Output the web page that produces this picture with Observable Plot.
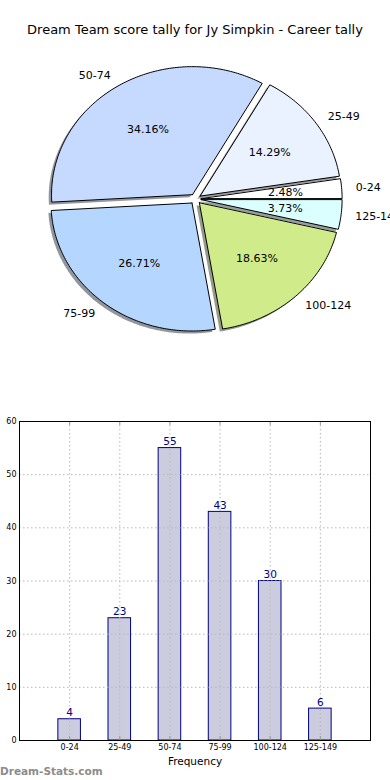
<!DOCTYPE html>
<html><head><meta charset="utf-8">
<script src="https://cdn.jsdelivr.net/npm/d3@7"></script>
<script src="https://cdn.jsdelivr.net/npm/@observablehq/plot@0.6"></script>
<style>
html,body{margin:0;padding:0;background:#fff;}
body{font-family:"DejaVu Sans",sans-serif;width:390px;height:780px;overflow:hidden;position:relative;}
#title{position:absolute;top:22px;left:0;width:390px;text-align:center;font-size:13px;line-height:16px;color:#000;}
#pie{position:absolute;top:60px;left:0;}
#bar{position:absolute;top:400px;left:0;}
#wm{position:absolute;left:0;top:764px;font-size:10.5px;line-height:14px;color:#8c8c8c;font-weight:bold;}
</style></head><body>
<div id="title">Dream Team score tally for Jy Simpkin - Career tally</div>
<div id="pie"></div>
<div id="bar"></div>
<div id="wm">Dream-Stats.com</div>
<script>
// ---- data ----
const categories = ["0-24", "25-49", "50-74", "75-99", "100-124", "125-149"];
const counts = [4, 23, 55, 43, 30, 6];
const pieColors = ["#ffffff", "#eaf2ff", "#c6d9ff", "#b5d6ff", "#d0eb8a", "#dbffff"];
const yTicks = [0, 10, 20, 30, 40, 50, 60];
const xLabel = "Frequency";

// ---- pie ----
const explode = 0.04;
const total = d3.sum(counts);
let acc = 0;
const slices = categories.map((c, i) => {
  const a0 = acc / total * 2 * Math.PI;
  acc += counts[i];
  const a1 = acc / total * 2 * Math.PI;
  const mid = (a0 + a1) / 2;
  const ox = explode * Math.cos(mid), oy = explode * Math.sin(mid);
  const n = Math.max(2, Math.ceil((a1 - a0) / (Math.PI / 180)));
  const pts = [{u: ox, v: oy}];
  for (let k = 0; k <= n; k++) {
    const a = a0 + (a1 - a0) * k / n;
    pts.push({u: ox + Math.cos(a), v: oy + Math.sin(a)});
  }
  pts.push({u: ox, v: oy});
  const col = d3.rgb(pieColors[i]);
  const shadow = d3.rgb(col.r * 0.3, col.g * 0.3, col.b * 0.3).formatHex();
  return {
    cat: c, pct: counts[i] / total * 100, mid, pts, color: pieColors[i], shadow,
    lu: ox + 1.1 * Math.cos(mid), lv: oy + 1.1 * Math.sin(mid),
    pu: ox + 0.6 * Math.cos(mid), pv: oy + 0.6 * Math.sin(mid)
  };
});

const pieMarks = slices.flatMap(s => [
  Plot.line(s.pts, {x: d => d.u - 0.02, y: d => d.v - 0.02, fill: s.shadow, fillOpacity: 0.55, stroke: "none", curve: "linear"}),
  Plot.line(s.pts, {x: "u", y: "v", fill: s.color, stroke: "#000", strokeWidth: 1, strokeLinejoin: "miter", curve: "linear"})
]);

const pie = Plot.plot({
  width: 390, height: 340,
  marginTop: 0, marginBottom: 0, marginLeft: 0, marginRight: 0,
  x: {domain: [-195 / 141, 195 / 141], axis: null},
  y: {domain: [-201.5 / 128, 138.5 / 128], axis: null},
  style: {fontFamily: "DejaVu Sans", background: "#fff", overflow: "hidden"},
  marks: [
    ...pieMarks,
    Plot.text(slices, {x: "pu", y: "pv", text: d => d.pct.toFixed(2) + "%", fontSize: 11, fill: "#000"}),
    Plot.text(slices.filter(d => d.lu >= 0), {x: "lu", y: "lv", text: "cat", textAnchor: "start", fontSize: 11, fill: "#000"}),
    Plot.text(slices.filter(d => d.lu < 0), {x: "lu", y: "lv", text: "cat", textAnchor: "end", fontSize: 11, fill: "#000"})
  ]
});
document.getElementById("pie").appendChild(pie);

// ---- bar ----
const bars = categories.map((c, i) => ({i, cat: c, n: counts[i]}));
const idx = d3.range(categories.length);
const barW = 0.45;
const tickLen = 60 * 4 / 319;
const bar = Plot.plot({
  width: 390, height: 370,
  marginTop: 21, marginBottom: 30, marginLeft: 19, marginRight: 20,
  x: {domain: [-1, 6]},
  y: {domain: [0, 60]},
  style: {fontFamily: "DejaVu Sans", background: "#fff"},
  marks: [
    Plot.rectY(bars, {x1: d => d.i - barW / 2, x2: d => d.i + barW / 2, y1: 0, y2: "n", fill: "#ccccdf", stroke: "#000080", strokeWidth: 1}),
    Plot.gridX(idx, {stroke: "#b8b8b8", strokeOpacity: 1, strokeDasharray: "1.5,2.5"}),
    Plot.gridY(yTicks, {stroke: "#b8b8b8", strokeOpacity: 1, strokeDasharray: "1.5,2.5"}),
    Plot.ruleX(idx, {x: d => d, y1: 60, y2: 60 - tickLen, stroke: "#999"}),
    Plot.ruleX(idx, {x: d => d, y1: 0, y2: tickLen, stroke: "#999"}),
    Plot.axisX(idx, {tickFormat: i => categories[i], tickSize: 0, tickPadding: 4, fontSize: 8, label: null}),
    Plot.axisY(yTicks, {tickSize: 0, tickPadding: 3, fontSize: 8, label: null}),
    Plot.text(bars, {x: "i", y: "n", text: d => String(d.n), dy: -3, lineAnchor: "bottom", fill: "#000080", fontSize: 10.5}),
    Plot.text([xLabel], {text: d => d, frameAnchor: "bottom", dy: 21, lineAnchor: "middle", fontSize: 10.5, fill: "#000"}),
    Plot.frame({stroke: "#000", strokeWidth: 1})
  ]
});
document.getElementById("bar").appendChild(bar);
</script>
</body></html>
